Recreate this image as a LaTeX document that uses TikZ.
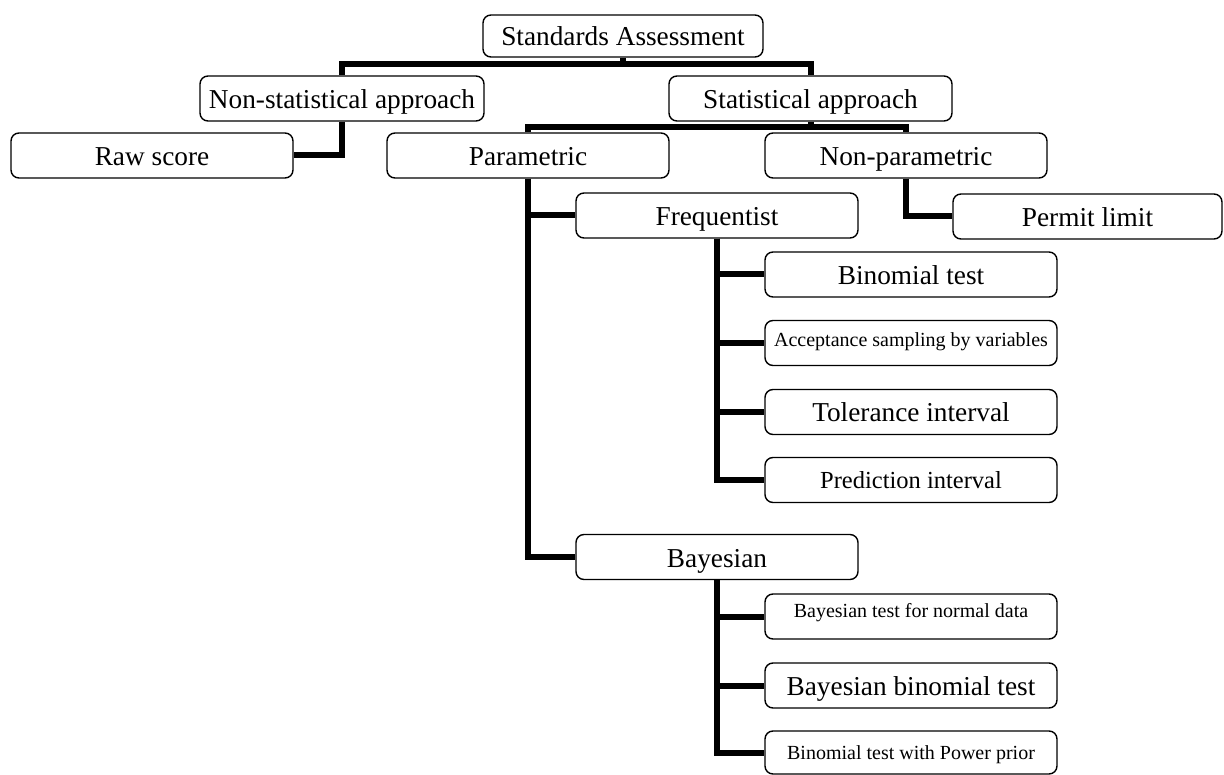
\documentclass[tikz,border=0pt]{standalone}
\usepackage{fontspec}
\setmainfont{Liberation Serif}
\begin{document}
\begin{tikzpicture}[x=1pt,y=-1pt,
  box/.style={draw=black,line width=1.4pt,rounded corners=8pt,fill=white,inner sep=0pt,
    minimum height=45pt,align=center,text height=20pt,text depth=0pt,
    font=\fontsize{27.3}{30}\selectfont},
  wbox/.style={box,minimum width=282pt},
  cbox/.style={box,minimum width=292pt},
  small/.style={font=\fontsize{20}{24}\selectfont,text height=15pt,text depth=1pt},
  mid/.style={font=\fontsize{24.5}{28}\selectfont,text height=18pt,text depth=0pt},
  conn/.style={line width=6pt,line join=miter,draw=black}]
\useasboundingbox (0,0) rectangle (1224,775);
% nodes
\node[box,minimum width=280pt,minimum height=42pt] (sa) at (623,36) {Standards Assessment};
\node[box,minimum width=284pt] (nonstat) at (342,98.5) {Non-statistical approach};
\node[box,minimum width=283pt] (stat) at (810.5,98.5) {Statistical approach};
\node[wbox] (raw) at (152,155.5) {Raw score};
\node[wbox] (param) at (528,155.5) {Parametric};
\node[wbox] (nonparam) at (906,155.5) {Non-parametric};
\node[wbox] (freq) at (717,215.5) {Frequentist};
\node[box,minimum width=269pt] (permit) at (1087.5,216.5) {Permit limit};
\node[cbox] (binom) at (911,274.5) {Binomial test};
\node[cbox,small] (accept) at (911,343) {\raisebox{3pt}{Acceptance sampling by variables}};
\node[cbox] (toler) at (911,412) {Tolerance interval};
\node[cbox,mid] (pred) at (911,480) {Prediction interval};
\node[wbox] (bayes) at (717,557) {Bayesian};
\node[cbox,small] (normal) at (911,616.5) {\raisebox{6pt}{Bayesian test for normal data}};
\node[cbox] (bbinom) at (911,685.5) {Bayesian binomial test};
\node[cbox,small,minimum height=43pt] (power) at (911,752.5) {Binomial test with Power prior};
% junctions
\coordinate (j1) at (623,64);
\coordinate (j2) at (810.5,127);
% connectors
\draw[conn] (sa.south) -- (j1);
\draw[conn] (nonstat.north) |- (j1) -| (stat.north);
\draw[conn] (nonstat.south) |- (raw.east);
\draw[conn] (stat.south) -- (j2);
\draw[conn] (param.north) |- (j2) -| (nonparam.north);
\draw[conn] (nonparam.south) |- (permit.west);
\draw[conn] (param.south) |- (freq.west);
\draw[conn] (param.south) |- (bayes.west);
\draw[conn] (freq.south) |- (binom.west);
\draw[conn] (freq.south) |- (accept.west);
\draw[conn] (freq.south) |- (toler.west);
\draw[conn] (freq.south) |- (pred.west);
\draw[conn] (bayes.south) |- (normal.west);
\draw[conn] (bayes.south) |- (bbinom.west);
\draw[conn] (bayes.south) |- (power.west);
\end{tikzpicture}
\end{document}
